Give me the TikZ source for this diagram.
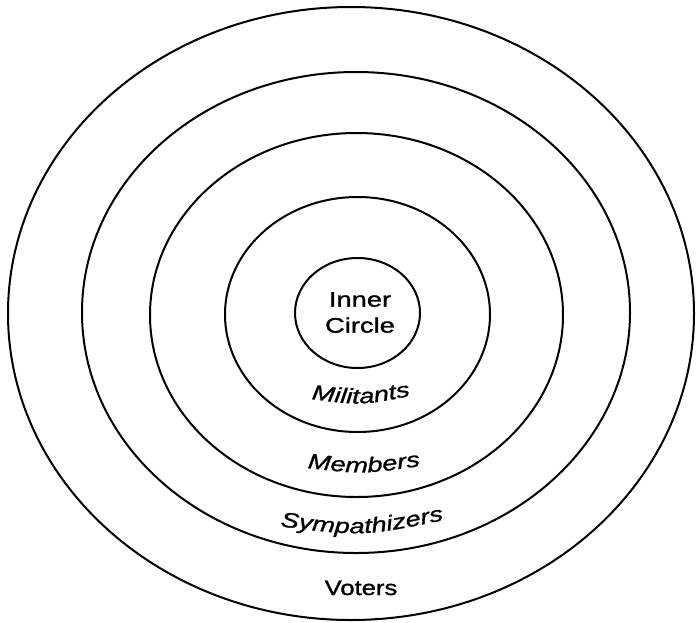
\documentclass[tikz,border=0pt]{standalone}
\usepackage{fontspec}
\setmainfont{Liberation Sans}
\newfontfamily\lab[FakeStretch=1.3,FakeBold=1.2]{Liberation Sans}
\newfontfamily\labv[FakeStretch=1.22,FakeBold=1.2]{Liberation Sans}
\usetikzlibrary{shapes.geometric,decorations.text}
\newcommand{\labfont}{\lab\fontsize{21}{26}\selectfont}
\newcommand{\labitfont}{\lab\itshape\fontsize{21}{26}\selectfont}
\begin{document}
\begin{tikzpicture}[x=1pt,y=-1pt,
  ring/.style={draw=black, ellipse, line width=2pt, inner sep=0pt, outer sep=0pt},
  curvelabel/.style={decorate, decoration={text along path, text align=center, text={#1}}}
]
\useasboundingbox (0,0) rectangle (696,622);
\fill[white] (0,0) rectangle (696,622);
% rings
\node[ring, minimum width=686pt, minimum height=613pt] (voters) at (351,313.5) {};
\node[ring, minimum width=548pt, minimum height=481pt] (symp) at (356,312.5) {};
\node[ring, minimum width=413pt, minimum height=364pt] (memb) at (356.5,315) {};
\node[ring, minimum width=265pt, minimum height=235pt] (milit) at (357.5,314.5) {};
\node[ring, minimum width=125pt, minimum height=110pt] (inner) at (357.5,313) {};
% inner text
\node[align=center, font=\labfont, inner sep=0pt] (innertext) at (360,312.5) {Inner\\Circle};
% curved labels
\coordinate (m1) at (300,397.5);
\coordinate (m2) at (361,406);
\coordinate (m3) at (422,393.5);
\path[curvelabel={|\labitfont|Militants}] (m1) .. controls (m2) .. (m3);
\coordinate (b1) at (298,467);
\coordinate (b2) at (364,474.5);
\coordinate (b3) at (430,464.5);
\path[curvelabel={|\labitfont|Members}] (b1) .. controls (b2) .. (b3);
\coordinate (s1) at (270,525);
\coordinate (s2) at (362,537);
\coordinate (s3) at (454,518);
\path[curvelabel={|\labitfont|Sympathizers}] (s1) .. controls (s2) .. (s3);
\node[anchor=base, font=\labv\fontsize{21}{26}\selectfont, inner sep=0pt] (vtext) at (361,595) {Voters};
\end{tikzpicture}
\end{document}
